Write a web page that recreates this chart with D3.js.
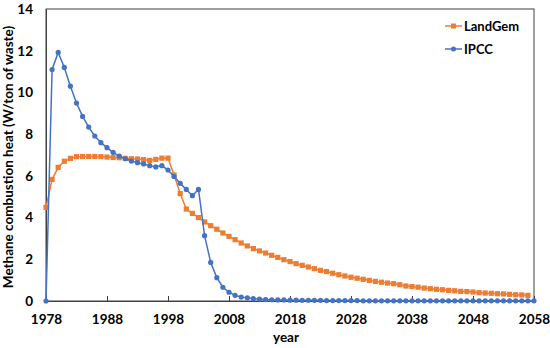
<!DOCTYPE html>
<html><head><meta charset="utf-8">
<script src="https://cdn.jsdelivr.net/npm/d3@7"></script>
<style>body{margin:0;background:#fff}svg{display:block}text{font-family:Lato,"Open Sans",sans-serif;font-weight:bold;fill:#000}</style>
</head><body><svg id="c" width="550" height="348"></svg>
<script>
const startYear = 1978;
const xTicks = [1978,1988,1998,2008,2018,2028,2038,2048,2058];
const yTicks = [0,2,4,6,8,10,12,14];
const seriesNames = ["LandGem","IPCC"];
// LandGem 1978..2057
const landgem = [4.49,5.83,6.41,6.70,6.84,6.92,6.93,6.93,6.93,6.92,6.90,6.88,6.87,6.84,6.82,6.81,6.78,6.74,6.79,6.85,6.85,
 6.04,5.15,4.41,4.20,4.00,3.79,3.61,3.44,3.26,3.10,2.94,2.78,2.64,2.51,2.40,2.30,2.19,2.09,1.98,1.89,1.79,1.71,1.63,1.55,1.47,1.41,1.33,1.26,1.20,1.14,1.09,1.04,0.99,0.94,0.90,0.86,0.83,0.78,0.72,0.69,0.66,0.62,0.59,0.56,0.54,0.51,0.49,0.46,0.45,0.43,0.40,0.38,0.37,0.35,0.34,0.32,0.30,0.29,0.27];
// IPCC 1978..2058
const ipcc = [0,11.1,11.92,11.2,10.3,9.49,8.85,8.34,7.91,7.59,7.35,7.13,6.95,6.82,6.71,6.63,6.57,6.49,6.43,6.49,6.28,
 5.97,5.64,5.35,5.05,5.35,3.13,1.85,1.12,0.66,0.42,0.27,0.19,0.15,0.11,0.09,0.07,0.06,0.05,0.05,0.04,0.04,0.03,0.03,0.03,0.03,0.02,0.02,0.02,0.02,0.02,0.02,0.01,0.01,0.01,0.01,0.01,0.01,0.01,0.01,0.01,0.01,0.01,0.01,0.01,0.01,0.01,0.01,0.01,0.01,0.01,0.01,0.01,0.01,0.01,0.01,0.01,0.01,0.01,0.01,0.01];
const colors = {LandGem:"#ED7D31", IPCC:"#4472C4"};

const svg = d3.select("#c");
const L=46, R=534, T=9, B=301;
const x = d3.scaleLinear().domain([1978,2058]).range([L,R]);
const y = d3.scaleLinear().domain([0,14]).range([B,T]);

// plot border
svg.append("rect").attr("x",L).attr("y",T).attr("width",R-L).attr("height",B-T)
  .attr("fill","none").attr("stroke","#404040").attr("stroke-width",1);

// x axis
const xa = svg.append("g").attr("transform",`translate(0,${B})`)
  .call(d3.axisBottom(x).tickValues(xTicks).tickFormat(d3.format("d")).tickSize(-5).tickPadding(13));
xa.select(".domain").attr("stroke","#404040");
xa.selectAll(".tick line").attr("stroke","#404040");
xa.selectAll("text").attr("font-size",13.5).attr("fill","#000");

const ya = svg.append("g").attr("transform",`translate(${L},0)`)
  .call(d3.axisLeft(y).tickValues(yTicks).tickSize(0).tickPadding(13));
ya.select(".domain").attr("stroke","#404040");
ya.selectAll("text").attr("font-size",13.5).attr("fill","#000");

const lg = landgem.map((v,i)=>[startYear+i,v]);
const ip = ipcc.map((v,i)=>[startYear+i,v]);
const line = d3.line().x(d=>x(d[0])).y(d=>y(d[1]));

svg.append("path").datum(lg).attr("d",line).attr("fill","none").attr("stroke",colors.LandGem).attr("stroke-width",1.5);
svg.append("g").selectAll("rect").data(lg).join("rect")
  .attr("x",d=>x(d[0])-2.6).attr("y",d=>y(d[1])-2.6).attr("width",5.2).attr("height",5.2).attr("fill",colors.LandGem);

svg.append("path").datum(ip).attr("d",line).attr("fill","none").attr("stroke",colors.IPCC).attr("stroke-width",1.5);
svg.append("g").selectAll("circle").data(ip).join("circle")
  .attr("cx",d=>x(d[0])).attr("cy",d=>y(d[1])).attr("r",2.6).attr("fill",colors.IPCC);

// legend
const leg = svg.append("g");
seriesNames.forEach((n,i)=>{
  const yy = 26 + i*23;
  leg.append("line").attr("x1",445).attr("x2",462).attr("y1",yy).attr("y2",yy).attr("stroke",colors[n]).attr("stroke-width",1.5);
  if(n==="LandGem") leg.append("rect").attr("x",451).attr("y",yy-2.5).attr("width",5).attr("height",5).attr("fill",colors[n]);
  else leg.append("circle").attr("cx",453.5).attr("cy",yy).attr("r",2.5).attr("fill",colors[n]);
  leg.append("text").attr("x",464).attr("y",yy+4.5).attr("font-size",13).text(n);
});

svg.append("text").attr("x",286).attr("y",342).attr("text-anchor","middle").attr("font-size",13.5).text("year");
svg.append("text").attr("transform",`translate(13,${(T+B)/2+2}) rotate(-90)`).attr("text-anchor","middle").attr("font-size",13.5)
  .text("Methane combustion heat (W/ton of waste)");
</script></body></html>
